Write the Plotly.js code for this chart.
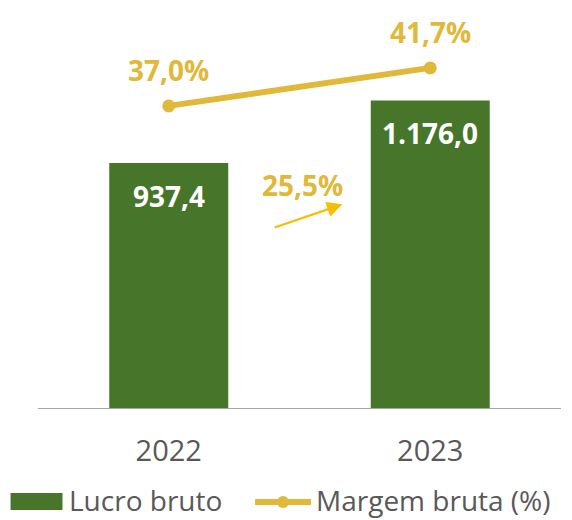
<!DOCTYPE html>
<html><head><meta charset="utf-8">
<script src="https://cdn.plot.ly/plotly-3.0.1.min.js"></script>
<style>html,body{margin:0;padding:0;background:#fff}#c{width:572px;height:520px}</style>
</head><body><div id="c"></div>
<script>
const years = ['2022', '2023'];
const lucroBruto = [937.4, 1176.0];
const margemBruta = [37.0, 41.7];
const lucroLabels = ['937,4', '1.176,0'];
const margemLabels = ['37,0%', '41,7%'];
const seriesNames = ['Lucro bruto', 'Margem bruta (%)'];

const green = '#47752a', gold = '#e0b83a', arrowGold = '#f5bf00', grey = '#595959';
const font = '"Open Sans", sans-serif';

const growth = (lucroBruto[1] / lucroBruto[0] - 1) * 100;
const growthLabel = growth.toFixed(1).replace('.', ',') + '%';

const traces = [
  {type: 'bar', x: years, y: lucroBruto, name: seriesNames[0], marker: {color: green}, width: 0.455, hoverinfo: 'none'},
  {type: 'scatter', mode: 'lines+markers', x: years, y: margemBruta, yaxis: 'y2', name: seriesNames[1],
   line: {color: gold, width: 6}, marker: {color: gold, size: 13}, hoverinfo: 'none'}
];

const annotations = [];
years.forEach((yr, i) => {
  annotations.push({x: i, y: lucroBruto[i], xref: 'x', yref: 'y', text: '<b>' + lucroLabels[i] + '</b>', showarrow: false,
    yshift: -33, font: {family: font, size: 28, color: '#ffffff'}});
  annotations.push({x: i, y: margemBruta[i], xref: 'x', yref: 'y2', text: '<b>' + margemLabels[i] + '</b>', showarrow: false,
    yshift: 36, font: {family: font, size: 28, color: gold}});
});
annotations.push({x: 0.51, y: 855, xref: 'x', yref: 'y', text: '<b>' + growthLabel + '</b>', showarrow: false,
  font: {family: font, size: 28, color: gold}});
annotations.push({x: 0.664, y: 780, xref: 'x', yref: 'y', axref: 'x', ayref: 'y', ax: 0.399, ay: 690, text: '',
  showarrow: true, arrowhead: 2, arrowsize: 1.4, arrowwidth: 2.2, arrowcolor: arrowGold});
// legend texts
annotations.push({x: 0.056, y: -0.228, xref: 'paper', yref: 'paper', xanchor: 'left', yanchor: 'middle', text: seriesNames[0],
  showarrow: false, font: {family: font, size: 28, color: grey}});
annotations.push({x: 0.527, y: -0.228, xref: 'paper', yref: 'paper', xanchor: 'left', yanchor: 'middle', text: seriesNames[1],
  showarrow: false, font: {family: font, size: 28, color: grey}});

const layout = {
  width: 572, height: 520,
  margin: {l: 37.5, r: 10.5, t: 10, b: 111},
  paper_bgcolor: '#fff', plot_bgcolor: '#fff',
  font: {family: font, color: grey},
  showlegend: false,
  xaxis: {type: 'category', range: [-0.5, 1.5], showgrid: false, zeroline: false, showline: false,
    tickfont: {family: font, size: 29, color: grey}, ticks: '', ticklabelstandoff: 22},
  yaxis: {range: [0, 1520.6], visible: false, showgrid: false, zeroline: false},
  yaxis2: {range: [-0.49, 48.86], overlaying: 'y', visible: false, showgrid: false, zeroline: false},
  shapes: [
    {type: 'line', xref: 'paper', yref: 'y', x0: 0, x1: 1, y0: 0, y1: 0, line: {color: '#a6a6a6', width: 2}, layer: 'above'},
    // legend symbols
    {type: 'rect', xref: 'paper', yref: 'paper', x0: -0.0525, x1: 0.0468, y0: -0.2105, y1: -0.2532, fillcolor: green, line: {width: 0}},
    {type: 'line', xref: 'paper', yref: 'paper', x0: 0.415, x1: 0.522, y0: -0.2331, y1: -0.2331, line: {color: gold, width: 6}},
    {type: 'circle', xref: 'paper', yref: 'paper', xsizemode: 'pixel', ysizemode: 'pixel', xanchor: 0.4685, yanchor: -0.2331,
     x0: -6, x1: 6, y0: -6, y1: 6, fillcolor: gold, line: {width: 0}}
  ],
  annotations: annotations
};

Plotly.newPlot('c', traces, layout, {displayModeBar: false, staticPlot: true});
</script></body></html>
